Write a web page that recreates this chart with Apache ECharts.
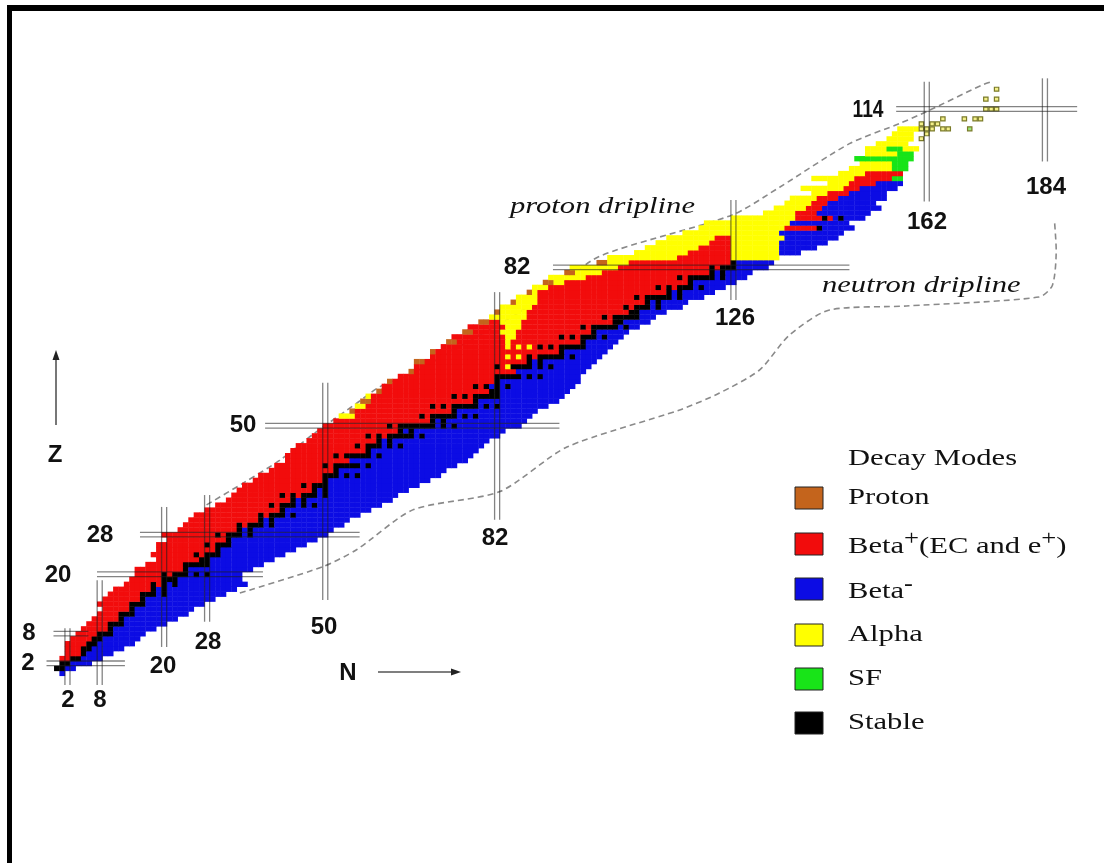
<!DOCTYPE html>
<html><head><meta charset="utf-8">
<script src="https://cdn.jsdelivr.net/npm/echarts@6/dist/echarts.min.js"></script>
<style>html,body{margin:0;padding:0;background:#fff}#c{width:1104px;height:863px}</style>
</head><body><div id="c"></div>
<script>
// ---------------- DATA ----------------
// index = Z (proton number); lightest and heaviest known N for each element
const nMin = [1,0,1,1,2,2,2,3,4,5,6,7,8,9,8,9,10,11,13,14,15,15,17,19,18,19,19,21,20,23,
  24,25,26,28,30,32,33,34,35,37,38,40,41,43,43,44,45,47,48,49,50,52,53,55,56,57,58,60,61,62,
  64,66,67,67,70,70,72,73,74,76,77,79,81,82,83,85,86,88,89,91,92,95,96,101,103,108,110,112,114,117,
  120,121,126,132,134,136,137,141,139,144,141,146,148,150,149,151,151,153,155,156,157];
const nMax = [1,3,6,8,10,12,14,15,16,18,20,22,24,25,27,29,31,33,35,34,34,36,38,40,42,44,46,48,50,51,
  53,54,56,58,60,62,63,65,67,69,71,72,74,76,77,78,79,80,82,83,86,87,88,89,91,93,94,95,96,97,
  97,98,99,100,101,102,103,104,105,106,108,110,111,113,116,117,120,122,124,126,128,129,132,133,134,138,141,143,145,146,
  148,147,150,151,153,152,154,154,156,157,157,157,158,158,159,159,160,158,159,159,160];
// stable (and primordial) nuclides: N values for each Z
const stableN = [[],[0,1],[1,2],[3,4],[5],[5,6],[6,7],[7,8],[8,9,10],[10],[10,11,12],[12],[12,13,14],[14],[14,15,16],[16],
  [16,17,18,20],[18,20],[18,20,22],[20,21,22],[20,22,23,24,26,28],[24],[24,25,26,27,28],[27,28],[26,28,29,30],[30],
  [28,30,31,32],[32],[30,32,33,34,36],[34,36],[34,36,37,38,40],[38,40],[38,40,41,42,44],[42],[40,42,43,44,46,48],[44,46],
  [42,44,46,47,48,50],[48,50],[46,48,49,50],[50],[50,51,52,54,56],[52],[50,52,53,54,55,56,58],[],[52,54,55,56,57,58,60],[58],
  [56,58,59,60,62,64],[60,62],[58,60,62,63,64,65,66,68],[64,66],[62,64,65,66,67,68,69,70,72,74],[70,72],
  [68,70,71,72,73,74,76,78],[74],[70,72,74,75,76,77,78,80,82],[78],[74,76,78,79,80,81,82],[81,82],[78,80,82,84],[82],
  [82,83,84,85,86,88,90],[],[82,85,86,87,88,90,92],[88,90],[88,90,91,92,93,94,96],[94],[90,92,94,95,96,97,98],[98],
  [94,96,98,99,100,102],[100],[98,100,101,102,103,104,106],[104,105],[102,104,105,106,107,108],[107,108],[106,108,109,110,112],
  [110,112],[108,110,111,112,113,114,116],[114,116],[112,114,116,117,118,120],[118],[116,118,119,120,121,122,124],[122,124],
  [122,124,125,126],[126],[],[],[],[],[],[],[142],[],[143,146]];
// first beta-minus N for elements without stable isotopes
const betaStart = [[43,55],[61,86],[84,135],[85,135],[86,135],[87,135],[88,136],[89,135],[90,136],[91,137],[92,141],
  [93,142],[94,143],[95,144],[96,146],[97,148],[98,150],[99,153],[100,158],[101,158],[102,999],[103,999],[104,999],
  [105,999],[106,999],[107,999],[108,999],[109,999],[110,999],[111,999]];
// alpha decay ranges [Z, Nfrom, Nto]
const alphaRanges = [[52,53,55],[54,56,57],[56,58,58],[62,84,84],[64,84,84],[64,86,86],[66,84,84],[66,86,86],[66,88,88],
  [67,84,84],[68,84,85],[69,83,85],[70,84,86],[71,83,86],[72,81,87],[73,82,87],[74,83,88],[75,85,89],[76,86,89],
  [77,88,89],[78,89,91],[79,91,94],[80,92,98],[81,95,101],[82,96,104],[83,101,106],
  [84,103,115],[84,126,134],[85,108,117],[85,126,134],[86,110,119],[86,126,134],[87,112,121],[87,126,134],
  [88,114,122],[88,126,135],[89,117,134],[90,120,135],[91,121,136],[92,126,137],[93,132,137],[94,134,139],
  [95,136,140],[96,137,141],[97,141,143],[98,139,146],[99,144,147],[100,141,148],[101,146,150],[102,148,155],
  [103,150,157],[104,149,158],[105,151,159],[106,151,160],[107,153,158],[108,155,159],[109,156,159],[110,157,160],[111,158,160]];
// spontaneous fission ranges [Z, Nfrom, Nto]
const sfRanges = [[100,156,157],[102,156,158],[103,156,158],[104,149,155],[104,156,159],[105,157,159],[106,155,157]];
// proton emitters [Z, N]
const protonCells = [[53,55],[55,57],[55,58],[57,60],[59,62],[61,66],[63,67],[63,68],[65,70],[67,73],[67,74],
  [69,76],[69,77],[71,79],[71,80],[73,82],[75,85],[77,88],[79,91],[79,92],[81,95],[81,96],[83,101],[83,102]];
// superheavy nuclides (outlined) [Z, N, mode]
const superHeavy = [[108,161,3],[109,162,3],[110,161,3],[110,162,3],[110,163,3],[110,165,3],[111,161,3],[111,163,3],
  [111,164,3],[112,165,3],[112,169,3],[112,171,3],[112,172,3],[110,166,3],[110,170,4],[114,173,3],[114,174,3],
  [114,175,3],[116,173,3],[116,175,3],[118,175,3]];
// magic numbers
const magicN = [2, 8, 20, 28, 50, 82, 126, 162, 184];
const magicZ = [2, 8, 20, 28, 50, 82, 114];
// dripline traces [N, Z]
const protonDripline = [[27.9,34],[35,38.6],[41.5,43],[48,48.5],[55.8,54.5],[60.2,57.9],[66.3,60.6],[75,66],
  [84,71.5],[92,77],[101,84.2],[125.8,92.6],[134.6,98.2],[147.6,107],[157,111.1],[162,113.5],[172.4,118.9],[174,119.5]];
const neutronDripline = [[34.1,16.2],[49.5,21.5],[55.9,25],[66.3,33],[82.5,36.7],[95,45.7],[116,53.2],[123.4,56.6],
  [130.9,61.3],[136.4,68.3],[143.9,73.4],[158.2,74.2],[182.9,76],[185.4,78.4],[186.1,85.5],[185.8,91.1]];
const modeNames = ['Proton', 'Beta+', 'Beta-', 'Alpha', 'SF', 'Stable'];

// ---------------- layout / style ----------------
const COLORS = ['#c4641c', '#f20c0c', '#0c0ce4', '#ffff00', '#18e418', '#000000'];
// extents of magic double lines (in N / Z units)
const magicNSpan = {2:[-2.4,9.1], 8:[-2.4,18.8], 20:[5.3,33.6], 28:[10.4,36], 50:[14.8,58.7], 82:[31,77], 126:[75.4,95.6], 162:[95.3,119.5], 184:[103.4,120.2]};
const magicZSpan = {2:[-1.9,12.7], 8:[-0.6,5.9], 20:[7.5,38.4], 28:[15.5,56.4], 50:[38.8,93.6], 82:[92.4,147.6], 114:[156.3,190]};

function inRanges(list, z, n){ return list.some(r => r[0]===z && n>=r[1] && n<=r[2]); }
function modeOf(z, n){
  const st = stableN[z] || [];
  if (st.includes(n)) return 5;
  if (protonCells.some(c => c[0]===z && c[1]===n)) return 0;
  if (inRanges(sfRanges, z, n)) return 4;
  if (inRanges(alphaRanges, z, n)) return 3;
  if (st.length){
    const lo = Math.min(...st), hi = Math.max(...st);
    if (n < lo) return 1;
    if (n > hi) return 2;
    return n < (lo+hi)/2 ? 1 : 2;
  }
  const b = betaStart.find(r => r[0]===z);
  return (b && n < b[1]) ? 1 : 2;
}
const cells = [];
for (let z = 0; z < nMin.length; z++){
  for (let n = nMin[z]; n <= nMax[z]; n++) cells.push([n, z, modeOf(z, n)]);
}
const shCells = superHeavy.map(s => [s[1], s[0], s[2]]);
const magicRows = [];
magicN.forEach(n => magicRows.push([0, n, magicNSpan[n][0], magicNSpan[n][1]]));
magicZ.forEach(z => magicRows.push([1, z, magicZSpan[z][0], magicZSpan[z][1]]));

const chart = echarts.init(document.getElementById('c'), null, {renderer:'canvas', width:1104, height:863});

const SERIF = '"Liberation Serif", "Times New Roman", serif';
const SANS = '"Liberation Sans", Arial, sans-serif';
function numLabel(t, x, y, sx){
  return {type:'text', x:x, y:y, scaleX: sx||1, z:20,
    style:{text:t, font:'bold 24px '+SANS, fill:'#111', align:'center', verticalAlign:'middle'}};
}
function serifText(t, x, y, italic){
  return {type:'text', x:x, y:y, scaleX:1.33, z:20,
    style:{text:t, font:(italic?'italic ':'')+'23px '+SERIF, fill:'#111', align:'left', verticalAlign:'middle'}};
}
const legendRowsY = [498, 544, 589, 635, 679, 723];
const legendGraphics = [];
legendRowsY.forEach((y, i) => {
  legendGraphics.push({type:'rect', x:795, y:y-11, z:20, shape:{width:28, height:22},
    style:{fill:COLORS[i], stroke:'#222', lineWidth:1}});
});
legendGraphics.push(serifText('Decay Modes', 848, 459));
legendGraphics.push(serifText('Proton', 848, legendRowsY[0]));
legendGraphics.push({type:'text', x:848, y:legendRowsY[1], scaleX:1.33, z:20, style:{
  text:'{a|Beta}{s|+}{a|(EC and e}{s|+}{a|)}', align:'left', verticalAlign:'middle',
  rich:{a:{font:'23px '+SERIF, fill:'#111', lineHeight:28, verticalAlign:'bottom'},
        s:{font:'20px '+SERIF, fill:'#111', lineHeight:28, verticalAlign:'top', padding:[0,0,10,0]}}}});
legendGraphics.push({type:'text', x:848, y:legendRowsY[2], scaleX:1.33, z:20, style:{
  text:'{a|Beta}{s|-}', align:'left', verticalAlign:'middle',
  rich:{a:{font:'23px '+SERIF, fill:'#111', lineHeight:28, verticalAlign:'bottom'},
        s:{font:'bold 20px '+SERIF, fill:'#111', lineHeight:28, verticalAlign:'top', padding:[0,0,10,0]}}}});
legendGraphics.push(serifText('Alpha', 848, legendRowsY[3]));
legendGraphics.push(serifText('SF', 848, legendRowsY[4]));
legendGraphics.push(serifText('Stable', 848, legendRowsY[5]));

const arrowStyle = {stroke:'#555', lineWidth:1.6};
const graphics = [
  {type:'rect', x:7, y:5, z:30, shape:{width:1097, height:6}, style:{fill:'#000'}},
  {type:'rect', x:7, y:5, z:30, shape:{width:5, height:858}, style:{fill:'#000'}},
  // magic number labels
  numLabel('2', 68, 700), numLabel('8', 100, 700), numLabel('20', 163, 666), numLabel('28', 208, 642),
  numLabel('50', 324, 627), numLabel('82', 495, 538), numLabel('126', 735, 318), numLabel('162', 927, 222),
  numLabel('184', 1046, 187), numLabel('2', 28, 663), numLabel('8', 29, 633), numLabel('20', 58, 575),
  numLabel('28', 100, 535), numLabel('50', 243, 425), numLabel('82', 517, 267), numLabel('114', 868, 110, 0.8),
  // axis arrows
  {type:'text', x:55, y:455, z:20, style:{text:'Z', font:'bold 24px '+SANS, fill:'#111', align:'center', verticalAlign:'middle'}},
  {type:'line', z:20, shape:{x1:56, y1:425, x2:56, y2:356}, style:arrowStyle},
  {type:'polygon', z:20, shape:{points:[[52.5,360],[59.5,360],[56,350]]}, style:{fill:'#222'}},
  {type:'text', x:348, y:673, z:20, style:{text:'N', font:'bold 24px '+SANS, fill:'#111', align:'center', verticalAlign:'middle'}},
  {type:'line', z:20, shape:{x1:378, y1:672, x2:455, y2:672}, style:arrowStyle},
  {type:'polygon', z:20, shape:{points:[[451,668.5],[451,675.5],[461,672]]}, style:{fill:'#222'}},
  // dripline captions
  {type:'text', x:510, y:207, scaleX:1.33, z:20, style:{text:'proton dripline', font:'italic 23px '+SERIF, fill:'#111', align:'left', verticalAlign:'middle'}},
  {type:'text', x:822, y:286, scaleX:1.33, z:20, style:{text:'neutron dripline', font:'italic 23px '+SERIF, fill:'#111', align:'left', verticalAlign:'middle'}}
].concat(legendGraphics);

chart.setOption({
  animation:false,
  backgroundColor:'#ffffff',
  grid:{left:3.01, top:29.83, width:1101.67, height:692.86, show:false},
  xAxis:{type:'value', min:-10, max:195, show:false},
  yAxis:{type:'value', min:-10, max:130, show:false},
  graphic:graphics,
  series:[
    {type:'line', data:protonDripline, symbol:'none', smooth:0.25, z:1,
     lineStyle:{color:'#8a8a8a', width:1.6, type:[6,4]}},
    {type:'line', data:neutronDripline, symbol:'none', smooth:0.25, z:1,
     lineStyle:{color:'#8a8a8a', width:1.6, type:[6,4]}},
    {type:'custom', name:'cells', data:cells, z:2, encode:{x:0, y:1},
     renderItem:function(params, api){
       const p = api.coord([api.value(0), api.value(1)]);
       const s = api.size([1, 1]);
       return {type:'rect', shape:{x:p[0]-s[0]/2, y:p[1]-s[1]/2, width:s[0]+0.4, height:s[1]+0.4},
         style:{fill:COLORS[api.value(2)]}};
     }},
    {type:'custom', name:'superheavy', data:shCells, z:3, encode:{x:0, y:1},
     renderItem:function(params, api){
       const p = api.coord([api.value(0), api.value(1)]);
       const s = api.size([1, 1]);
       return {type:'rect', shape:{x:p[0]-s[0]/2+0.5, y:p[1]-s[1]/2+0.5, width:s[0]-1, height:s[1]-1},
         style:{fill:api.value(2)===4 ? '#9be87a' : '#f4f08a', stroke:'#7a7a28', lineWidth:1.2}};
     }},
    {type:'custom', name:'magic', data:magicRows, z:4, silent:true,
     renderItem:function(params, api){
       const t = api.value(0), at = api.value(1), a = api.value(2), b = api.value(3);
       const children = [];
       [-0.47, 0.47].forEach(off => {
         let p1, p2;
         if (t === 0){ p1 = api.coord([at+off, a]); p2 = api.coord([at+off, b]); }
         else { p1 = api.coord([a, at+off]); p2 = api.coord([b, at+off]); }
         children.push({type:'line', shape:{x1:p1[0], y1:p1[1], x2:p2[0], y2:p2[1]},
           style:{stroke:'rgba(30,30,30,0.55)', lineWidth:1.3}});
       });
       return {type:'group', children:children};
     }}
  ]
});
</script></body></html>
